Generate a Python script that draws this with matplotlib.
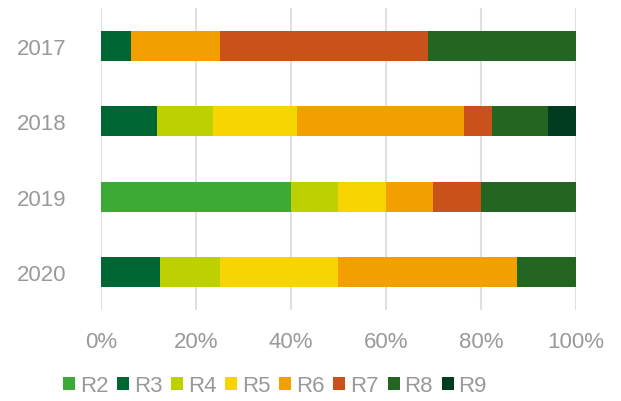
import matplotlib
matplotlib.use("Agg")
import matplotlib.pyplot as plt
import numpy as np

years = ["2017", "2018", "2019", "2020"]
series = ["R2", "R3", "R4", "R5", "R6", "R7", "R8", "R9"]
# percentages per year (sum to 100)
R2 = [0.0, 0.0, 40.0, 0.0]
R3 = [6.25, 11.76, 0.0, 12.5]
R4 = [0.0, 11.76, 10.0, 12.5]
R5 = [0.0, 17.65, 10.0, 25.0]
R6 = [18.75, 35.29, 10.0, 37.5]
R7 = [43.75, 5.88, 10.0, 0.0]
R8 = [31.25, 11.76, 20.0, 12.5]
R9 = [0.0, 5.88, 0.0, 0.0]
values = [R2, R3, R4, R5, R6, R7, R8, R9]
colors = ["#3DAA35", "#006633", "#BDD100", "#F8D500", "#F29F00", "#C9521A", "#236621", "#003D20"]

plt.rcParams['font.family'] = ['Liberation Sans', 'DejaVu Sans']
fig = plt.figure(figsize=(6.21, 4.02), dpi=100)
ax = fig.add_axes([101/621, 1-311/402, 475/621, 302/402])

y = np.arange(len(years))
left = np.zeros(len(years))
for name, vals, c in zip(series, values, colors):
    v = np.array(vals)
    ax.barh(y, v, left=left, height=0.4, color=c, label=name, zorder=3)
    left += v

ax.set_xlim(0, 100)
ax.set_ylim(3.5, -0.5)
ax.set_yticks(y)
ax.set_yticklabels(years)
ax.set_xticks(np.arange(0, 101, 20))
ax.set_xticklabels([f"{t}%" for t in range(0, 101, 20)])
ax.tick_params(length=0, labelsize=16, colors="#999999")
ax.tick_params(axis='y', pad=25)
ax.tick_params(axis='x', pad=15)
ax.grid(axis='x', color="#E0E0E0", linewidth=1.5, zorder=0)
for s in ax.spines.values():
    s.set_visible(False)

handles, labels = ax.get_legend_handles_labels()
leg = fig.legend(handles, labels, loc='center', bbox_to_anchor=(275/621, 1-387/402), ncol=8,
                 frameon=False, fontsize=16, handlelength=0.54, handleheight=0.54,
                 handletextpad=0.22, columnspacing=0.39, labelcolor="#999999")

fig.savefig("out.png", dpi=100)
